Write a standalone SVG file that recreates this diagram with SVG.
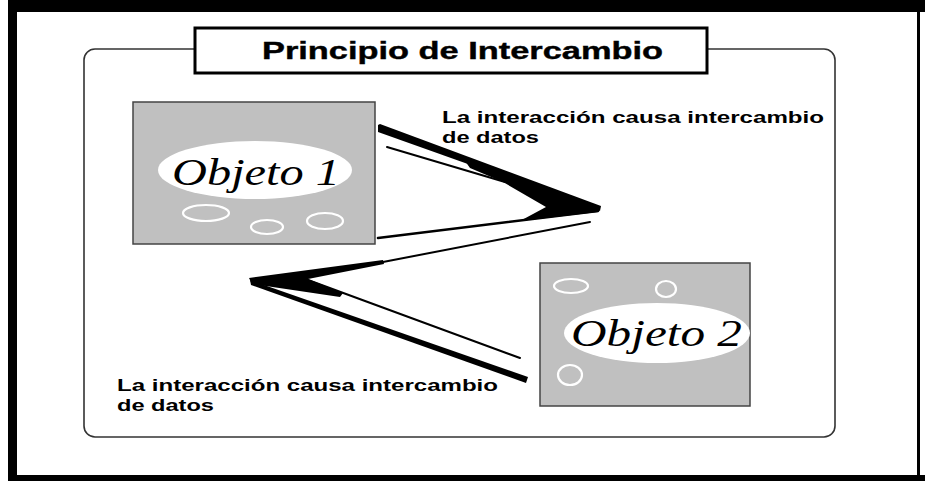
<svg xmlns="http://www.w3.org/2000/svg" width="925" height="481" viewBox="0 0 925 481">
<style>
.frame{fill:#000}
.panel{fill:#fff;stroke:#333;stroke-width:1.6}
.tbox{fill:#fff;stroke:#000;stroke-width:3}
.ttl{font-family:"Liberation Sans",Arial,sans-serif;font-weight:bold;font-size:24px;fill:#000;stroke:#000;stroke-width:0.4}
.obj{fill:#c0c0c0;stroke:#444;stroke-width:1.5}
.big{fill:#fff}
.small{fill:none;stroke:#fff;stroke-width:2.2}
.oname{font-family:"Liberation Serif","Times New Roman",serif;font-style:italic;font-size:37px;fill:#000}
.lbl{font-family:"Liberation Sans",Arial,sans-serif;font-weight:bold;font-size:17px;fill:#000}
.thin{stroke:#000;stroke-width:2;fill:none;stroke-linecap:round}
.mid{stroke:#000;stroke-width:2.6;fill:none;stroke-linecap:round}
.fill{fill:#000}
</style>
<rect width="925" height="481" fill="#fff"/>
<g id="frame">
<rect class="frame" x="8" y="0" width="917" height="12"/>
<rect class="frame" x="8" y="0" width="9" height="481"/>
<rect class="frame" x="8" y="475" width="917" height="6"/>
<rect class="frame" x="917" y="0" width="3" height="481"/>
</g>
<g id="panel">
<rect class="panel" x="84" y="49" width="751" height="388" rx="11"/>
</g>
<g id="title">
<rect class="tbox" x="195" y="28" width="512" height="45"/>
<text class="ttl" x="262" y="59" textLength="401" lengthAdjust="spacingAndGlyphs">Principio de Intercambio</text>
</g>
<g id="objeto1">
<rect class="obj" x="133" y="102" width="242" height="142"/>
<ellipse class="big" cx="255" cy="170" rx="97" ry="29"/>
<text class="oname" x="172" y="185" textLength="168" lengthAdjust="spacingAndGlyphs">Objeto 1</text>
<ellipse class="small" cx="206" cy="213" rx="23" ry="8"/>
<ellipse class="small" cx="267" cy="227" rx="16" ry="7"/>
<ellipse class="small" cx="325" cy="221" rx="18" ry="8"/>
</g>
<g id="objeto2">
<rect class="obj" x="540" y="263" width="210" height="143"/>
<ellipse class="big" cx="657" cy="333" rx="93" ry="30"/>
<text class="oname" x="571" y="346" textLength="171" lengthAdjust="spacingAndGlyphs">Objeto 2</text>
<ellipse class="small" cx="571" cy="286" rx="17" ry="7"/>
<ellipse class="small" cx="666" cy="289" rx="10" ry="8"/>
<ellipse class="small" cx="570" cy="375" rx="12" ry="10"/>
</g>
<g id="label1">
<text class="lbl" x="442" y="123" textLength="382" lengthAdjust="spacingAndGlyphs">La interacción causa intercambio</text>
<text class="lbl" x="442" y="143" textLength="97" lengthAdjust="spacingAndGlyphs">de datos</text>
</g>
<g id="label2">
<text class="lbl" x="117" y="391" textLength="381" lengthAdjust="spacingAndGlyphs">La interacción causa intercambio</text>
<text class="lbl" x="117" y="411" textLength="97" lengthAdjust="spacingAndGlyphs">de datos</text>
</g>
<g id="connectors">
<polygon class="fill" points="378,125 380,124 601,206 600,211 378,132"/>
<polygon class="fill" points="465,161 600,207 598,212 520,221 546,207 503,182 470,168"/>
<line class="thin" x1="387" y1="147" x2="505" y2="182"/>
<line class="mid" x1="598" y1="211" x2="378" y2="238"/>
<polygon class="fill" points="249,278 383,260 384,264 308,279 343,293 340,297 252,284"/>
<line class="thin" x1="383" y1="262" x2="590" y2="222"/>
<polygon class="fill" points="250,280 528,377 526,383 251,285"/>
<line class="thin" x1="308" y1="280" x2="520" y2="358"/>
</g>
</svg>
